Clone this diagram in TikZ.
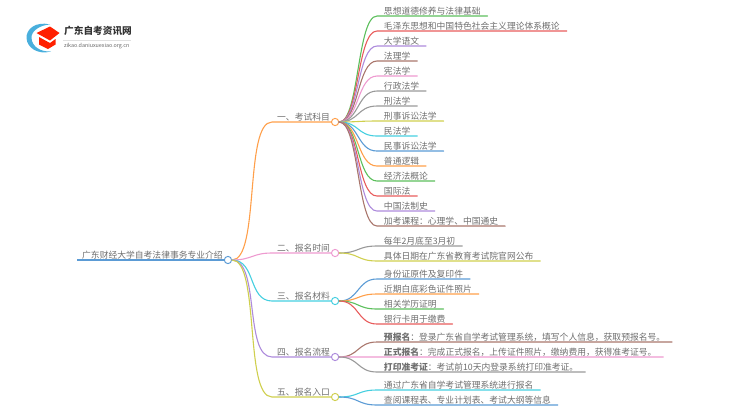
\documentclass[tikz,border=0pt]{standalone}
\usepackage{fontspec}
\setmainfont{Noto Sans CJK SC}
\usepackage{xcolor}
\usetikzlibrary{positioning}

\definecolor{cblue}{HTML}{5B9BD5}
\definecolor{corange}{HTML}{FF9F4A}
\definecolor{cpink}{HTML}{EE9AD0}
\definecolor{ccyan}{HTML}{45CFE0}
\definecolor{cpurple}{HTML}{AD8BDC}
\definecolor{colive}{HTML}{CFCF4E}
\definecolor{cgreen}{HTML}{5CBF5C}
\definecolor{cred}{HTML}{E85C5C}
\definecolor{cbrown}{HTML}{A9766C}
\definecolor{cgray}{HTML}{999999}
\definecolor{ctext}{HTML}{6E6E6E}

\tikzset{
	leaf/.style={inner xsep=0.272cm, inner ysep=0.2pt, anchor=south west, text=ctext, font=\fontsize{10}{12}\selectfont},
	topic/.style={inner xsep=0.2cm, inner ysep=0.6pt, anchor=south west, text=ctext, font=\fontsize{10}{12}\selectfont},
	knob/.style={circle, draw=#1, fill=white, line width=1.1pt, minimum size=0.29cm, inner sep=0pt},
	wire/.style={line width=1.25pt, line cap=round},
}
% curve from a knob to the underline of a node
\newcommand{\stem}[4]{\draw[wire, #1] (#2.east) .. controls +(#4,0) and +(-#4,0) .. (#3.south west) -- (#3.south east);}
\newcommand{\stemk}[4]{\draw[wire, #1] (#2.east) .. controls +(#4,0) and +(-#4,0) .. (#3.south west) -- (k#3.west);}

\begin{document}
\begin{tikzpicture}[x=0.04cm, y=-0.04cm]
	\useasboundingbox (0,0) rectangle (750,410);

	% Logo
	\fill[cblue!80!cyan] (50,24.5) .. controls (36,21) and (26,29) .. (26.5,38) .. controls (27,48) and (38,55) .. (51,51.5) .. controls (41,52) and (32,47) .. (31.5,38) .. controls (31,31) and (40,25) .. (50,24.5) -- cycle;
	\fill[red!75!orange] (36.5,33) -- (50,26.5) -- (59.5,33) -- (50,40.5) -- cycle;
	\fill[red!75!orange] (39,37) -- (50,43) -- (55.5,39) -- (55.5,44.5) -- (48,49) -- (39,44.5) -- cycle;
	\node[inner sep=0pt, anchor=west, text=black!80, font=\fontsize{11}{13}\selectfont\bfseries] (brand) at (64,31) {广东自考资讯网};
	\node[inner sep=0pt, anchor=west, text=black!60, font=\fontsize{6.1}{8}\selectfont] (site) at (64,46.5) {zikao.daniuxuexiao.org.cn};
	\coordinate (ruleL) at (63,40);
	\coordinate (ruleR) at (131,40);
	\draw[black!12, line width=0.5pt] (ruleL) -- (ruleR);

	% Define nodes
	\node[topic] (root) at (77,260) {广东财经大学自考法律事务专业介绍};
	\node[knob=cblue] (k0) at (root.south east) {};

	\node[topic] (t1) at (272,122) {一、考试科目};
	\node[topic] (t2) at (272,253) {二、报名时间};
	\node[topic] (t3) at (272,301) {三、报名材料};
	\node[topic] (t4) at (272,357) {四、报名流程};
	\node[topic] (t5) at (272,397) {五、报名入口};
	\node[knob=corange] (kt1) at (t1.south east) {};
	\node[knob=cpink] (kt2) at (t2.south east) {};
	\node[knob=ccyan] (kt3) at (t3.south east) {};
	\node[knob=cpurple] (kt4) at (t4.south east) {};
	\node[knob=colive] (kt5) at (t5.south east) {};

	\node[leaf] (a1) at (377,16) {思想道德修养与法律基础};
	\node[leaf, below=0.6cm of a1.south west, anchor=south west] (a2) {毛泽东思想和中国特色社会主义理论体系概论};
	\node[leaf, below=0.6cm of a2.south west, anchor=south west] (a3) {大学语文};
	\node[leaf, below=0.6cm of a3.south west, anchor=south west] (a4) {法理学};
	\node[leaf, below=0.6cm of a4.south west, anchor=south west] (a5) {宪法学};
	\node[leaf, below=0.6cm of a5.south west, anchor=south west] (a6) {行政法学};
	\node[leaf, below=0.6cm of a6.south west, anchor=south west] (a7) {刑法学};
	\node[leaf, below=0.6cm of a7.south west, anchor=south west] (a8) {刑事诉讼法学};
	\node[leaf, below=0.6cm of a8.south west, anchor=south west] (a9) {民法学};
	\node[leaf, below=0.6cm of a9.south west, anchor=south west] (a10) {民事诉讼法学};
	\node[leaf, below=0.6cm of a10.south west, anchor=south west] (a11) {普通逻辑};
	\node[leaf, below=0.6cm of a11.south west, anchor=south west] (a12) {经济法概论};
	\node[leaf, below=0.6cm of a12.south west, anchor=south west] (a13) {国际法};
	\node[leaf, below=0.6cm of a13.south west, anchor=south west] (a14) {中国法制史};
	\node[leaf, below=0.6cm of a14.south west, anchor=south west] (a15) {加考课程：心理学、中国通史};

	\node[leaf] (b1) at (377,246) {每年2月底至3月初};
	\node[leaf, below=0.6cm of b1.south west, anchor=south west] (b2) {具体日期在广东省教育考试院官网公布};

	\node[leaf] (c1) at (377,279) {身份证原件及复印件};
	\node[leaf, below=0.6cm of c1.south west, anchor=south west] (c2) {近期白底彩色证件照片};
	\node[leaf, below=0.6cm of c2.south west, anchor=south west] (c3) {相关学历证明};
	\node[leaf, below=0.6cm of c3.south west, anchor=south west] (c4) {银行卡用于缴费};

	\node[leaf] (d1) at (377,342) {\textbf{预报名}：登录广东省自学考试管理系统，填写个人信息，获取预报名号。};
	\node[leaf, below=0.6cm of d1.south west, anchor=south west] (d2) {\textbf{正式报名}：完成正式报名，上传证件照片，缴纳费用，获得准考证号。};
	\node[leaf, below=0.6cm of d2.south west, anchor=south west] (d3) {\textbf{打印准考证}：考试前10天内登录系统打印准考证。};

	\node[leaf] (e1) at (377,390) {通过广东省自学考试管理系统进行报名};
	\node[leaf, below=0.6cm of e1.south west, anchor=south west] (e2) {查阅课程表、专业计划表、考试大纲等信息};

	% Edges
	\draw[cblue, line width=2.6pt] (root.south west) -- (k0.west);
	\stemk{corange}{k0}{t1}{28}
	\stemk{cpink}{k0}{t2}{20}
	\stemk{ccyan}{k0}{t3}{24}
	\stemk{cpurple}{k0}{t4}{28}
	\stemk{colive}{k0}{t5}{28}

	\stem{cgreen}{kt1}{a1}{20}
	\stem{cred}{kt1}{a2}{20}
	\stem{cpurple}{kt1}{a3}{20}
	\stem{cbrown}{kt1}{a4}{20}
	\stem{cpink}{kt1}{a5}{20}
	\stem{cgray}{kt1}{a6}{20}
	\stem{cgray}{kt1}{a7}{20}
	\stem{colive}{kt1}{a8}{20}
	\stem{ccyan}{kt1}{a9}{20}
	\stem{cblue}{kt1}{a10}{20}
	\stem{corange}{kt1}{a11}{20}
	\stem{cgreen}{kt1}{a12}{20}
	\stem{cred}{kt1}{a13}{20}
	\stem{cpurple}{kt1}{a14}{20}
	\stem{cbrown}{kt1}{a15}{20}

	\stem{cgray}{kt2}{b1}{20}
	\stem{colive}{kt2}{b2}{20}

	\stem{cblue}{kt3}{c1}{20}
	\stem{corange}{kt3}{c2}{20}
	\stem{cgreen}{kt3}{c3}{20}
	\stem{cred}{kt3}{c4}{20}

	\stem{cbrown}{kt4}{d1}{20}
	\stem{cpink}{kt4}{d2}{20}
	\stem{cgray}{kt4}{d3}{20}

	\stem{ccyan}{kt5}{e1}{20}
	\stem{cblue}{kt5}{e2}{20}
\end{tikzpicture}
\end{document}
